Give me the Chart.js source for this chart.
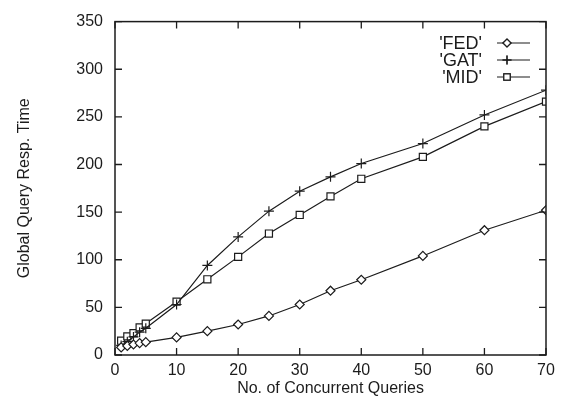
<!DOCTYPE html>
<html><head><meta charset="utf-8">
<script src="https://cdn.jsdelivr.net/npm/chart.js@4"></script>
<style>html,body{margin:0;padding:0;background:#fff}#wrap{width:566px;height:400px}</style>
</head><body><div id="wrap"><canvas id="c" width="566" height="400"></canvas></div>
<script>
const xValues = [1, 2, 3, 4, 5, 10, 15, 20, 25, 30, 35, 40, 50, 60, 70];
const fedValues = [8, 9.5, 11, 12.5, 13.5, 18.5, 25, 32, 41, 53, 67.5, 79, 104, 131, 152];
const gatValues = [10, 14, 19, 24, 28, 53, 94, 124, 151, 172, 187, 201, 222, 252, 278];
const midValues = [15, 19.5, 23, 29, 33, 56, 79.5, 103, 127.5, 147, 166.5, 185, 208, 240, 266];
const seriesLabels = ["'FED'", "'GAT'", "'MID'"];
const xTicks = [0, 10, 20, 30, 40, 50, 60, 70];
const yTicks = [0, 50, 100, 150, 200, 250, 300, 350];

const ink = '#1c1c1c';
const font = {family: "'Liberation Sans', Arial, sans-serif", size: 16};
const legendFontSize = 18;
const pts = v => xValues.map((x, i) => ({x: x, y: v[i]}));
const styles = [
  {pointStyle: 'rectRot', pointRadius: 4.5},
  {pointStyle: 'cross', pointRadius: 5},
  {pointStyle: 'rect', pointRadius: 5}
];
const datasets = [fedValues, gatValues, midValues].map((v, i) => ({
  label: seriesLabels[i], data: pts(v), borderColor: ink, borderWidth: 1.2,
  backgroundColor: '#fff', pointBorderColor: ink, pointBackgroundColor: '#fff',
  pointBorderWidth: 1.2, pointStyle: styles[i].pointStyle, pointRadius: styles[i].pointRadius,
  tension: 0, fill: false
}));

const framePlugin = {
  id: 'frame',
  afterDraw(chart) {
    const {ctx, chartArea: a, scales} = chart;
    ctx.save();
    ctx.strokeStyle = ink; ctx.lineWidth = 1.5;
    ctx.strokeRect(a.left, a.top, a.right - a.left, a.bottom - a.top);
    ctx.lineWidth = 1.3;
    const tl = 7;
    ctx.beginPath();
    xTicks.forEach(v => {
      const px = scales.x.getPixelForValue(v);
      ctx.moveTo(px, a.bottom); ctx.lineTo(px, a.bottom - tl);
      ctx.moveTo(px, a.top); ctx.lineTo(px, a.top + tl);
    });
    yTicks.forEach(v => {
      const py = scales.y.getPixelForValue(v);
      ctx.moveTo(a.left, py); ctx.lineTo(a.left + tl, py);
      ctx.moveTo(a.right, py); ctx.lineTo(a.right - tl, py);
    });
    ctx.stroke();
    // legend
    ctx.font = legendFontSize + 'px ' + font.family;
    ctx.textAlign = 'right'; ctx.textBaseline = 'middle'; ctx.fillStyle = ink;
    const rows = [43, 60, 77];
    chart.data.datasets.forEach((ds, i) => {
      const y = rows[i];
      ctx.fillText(ds.label, 482, y + 1);
      ctx.beginPath(); ctx.lineWidth = 1.2; ctx.strokeStyle = ink;
      ctx.moveTo(497, y); ctx.lineTo(530, y); ctx.stroke();
      Chart.helpers.drawPoint(ctx, {pointStyle: ds.pointStyle, radius: ds.pointRadius - 0.5, borderWidth: 1.2}, 507, y);
      ctx.fillStyle = '#fff'; ctx.strokeStyle = ink;
      if (ds.pointStyle !== 'cross') { ctx.fill(); }
      ctx.stroke();
      ctx.fillStyle = ink;
    });
    ctx.restore();
  }
};

new Chart(document.getElementById('c'), {
  type: 'line',
  data: {datasets},
  options: {
    responsive: false, animation: false,
    layout: {padding: {top: 14, right: 20, left: 0, bottom: 0}},
    plugins: {legend: {display: false}, tooltip: {enabled: false}},
    scales: {
      x: {
        type: 'linear', min: 0, max: 70,
        afterBuildTicks: s => { s.ticks = xTicks.map(v => ({value: v})); },
        afterFit: s => { s.height = 45; },
        grid: {display: false, drawTicks: false}, border: {display: false},
        ticks: {color: ink, font, padding: 6, maxRotation: 0},
        title: {display: true, text: 'No. of Concurrent Queries', color: ink, font, padding: {top: 0, bottom: 2}}
      },
      y: {
        type: 'linear', min: 0, max: 350,
        afterBuildTicks: s => { s.ticks = yTicks.map(v => ({value: v})); },
        afterFit: s => { s.width = 115; },
        grid: {display: false, drawTicks: false}, border: {display: false},
        ticks: {color: ink, font, padding: 12},
        title: {display: true, text: 'Global Query Resp. Time', color: ink, font, padding: {top: 15, bottom: 0}}
      }
    }
  },
  plugins: [framePlugin]
});
</script></body></html>
